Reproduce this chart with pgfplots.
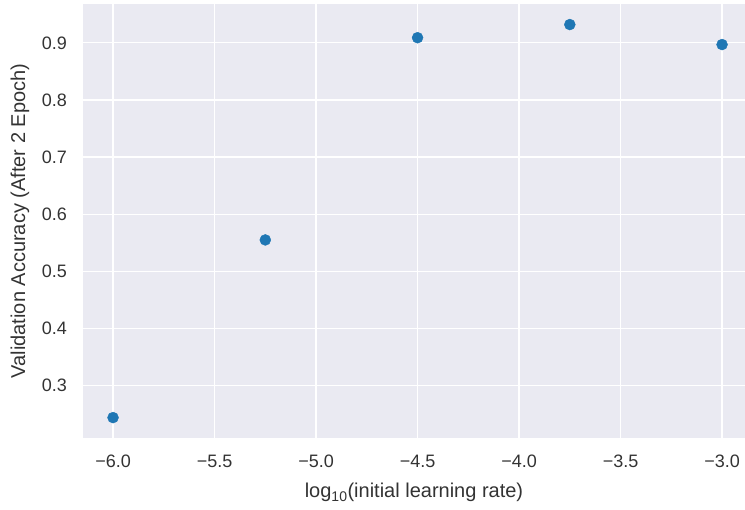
\documentclass[border=0pt]{standalone}
\usepackage{pgfplots}
\pgfplotsset{compat=1.18}
\usepackage{fontspec}
\setmainfont{Liberation Sans}
\definecolor{bg}{HTML}{EAEAF2}
\definecolor{pt}{HTML}{1F77B4}
\definecolor{txt}{HTML}{333333}
\begin{document}
\begin{tikzpicture}
\useasboundingbox (0,0) rectangle (745pt,510pt);
\begin{axis}[
  at={(83pt,72pt)}, anchor=south west,
  scale only axis, width=662pt, height=434pt,
  xmin=-6.148, xmax=-2.887, ymin=0.2083, ymax=0.968,
  axis background/.style={fill=bg},
  axis line style={draw=none},
  major tick length=0pt,
  grid=major, major grid style={white, line width=1.3pt},
  xtick={-6,-5.5,-5,-4.5,-4,-3.5,-3},
  xticklabels={−6.0,−5.5,−5.0,−4.5,−4.0,−3.5,−3.0},
  ytick={0.3,0.4,0.5,0.6,0.7,0.8,0.9},
  yticklabels={0.3,0.4,0.5,0.6,0.7,0.8,0.9},
  ticklabel style={font=\fontsize{18}{20}\selectfont, text=txt, inner sep=0pt},
  xticklabel style={anchor=north, yshift=-17pt},
  yticklabel style={anchor=east, xshift=-16pt},
  xlabel={log\textsubscript{10}(initial learning rate)},
  ylabel={Validation Accuracy (After 2 Epoch)},
  label style={font=\fontsize{20}{22}\selectfont, text=txt, inner sep=0pt},
  xlabel style={at={(axis description cs:0.5,0)}, anchor=base, yshift=-60pt},
  ylabel style={at={(axis description cs:0,0.5)}, anchor=center, rotate=0, yshift=63pt},
]
\addplot[only marks, mark=*, mark size=5.5pt, color=pt, mark options={draw=pt, fill=pt}]
  coordinates {(-6,0.244) (-5.25,0.555) (-4.5,0.909) (-3.75,0.932) (-3,0.897)};
\end{axis}
\end{tikzpicture}
\end{document}
